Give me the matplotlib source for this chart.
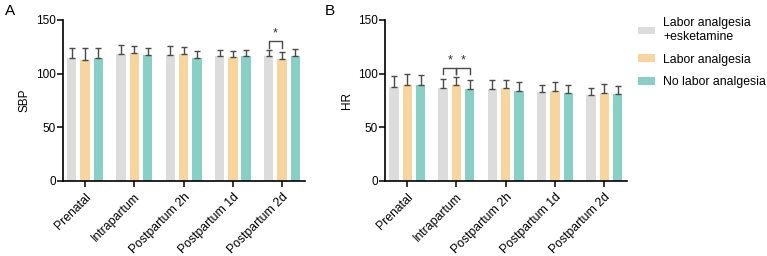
import numpy as np
import matplotlib
matplotlib.use("Agg")
import matplotlib.pyplot as plt
from matplotlib.patches import Patch

plt.rcParams['font.family'] = ['Liberation Sans', 'DejaVu Sans']

# Data
# ===================================
categories = ["Prenatal", "Intrapartum", "Postpartum 2h", "Postpartum 1d", "Postpartum 2d"]
groups = ["Labor analgesia\n+esketamine", "Labor analgesia", "No labor analgesia"]
colors = ["#DCDCDC", "#F8D49E", "#88D0C6"]

sbp_mean = [[114.3, 118.0, 117.4, 116.5, 116.5],
            [112.7, 119.6, 118.0, 115.8, 114.0],
            [114.3, 117.4, 114.3, 116.5, 116.8]]
sbp_sd = [[9.3, 8.4, 8.1, 5.2, 5.5],
          [10.9, 6.2, 7.2, 5.3, 6.5],
          [9.3, 6.8, 6.8, 5.5, 6.2]]

hr_mean = [[87.9, 87.0, 85.7, 83.2, 79.8],
           [89.8, 89.1, 87.0, 83.9, 81.7],
           [89.1, 85.7, 83.9, 82.0, 80.7]]
hr_sd = [[9.9, 7.7, 8.1, 6.6, 7.2],
         [9.9, 8.1, 7.4, 8.6, 9.0],
         [9.9, 8.1, 8.6, 7.8, 8.1]]

# Figure
# ===================================
fig = plt.figure(figsize=(7.67, 2.56), dpi=100)
ax_a = fig.add_axes([0.082, 0.293, 0.316, 0.629])
ax_b = fig.add_axes([0.502, 0.293, 0.316, 0.629])

x = np.arange(len(categories))
offsets = [-0.27, 0.0, 0.27]
width = 0.19


def draw_panel(ax, means, sds, ylabel):
    for i in range(3):
        ax.bar(x + offsets[i], means[i], width, color=colors[i], zorder=2)
        ax.errorbar(x + offsets[i], means[i], yerr=[np.zeros(len(x)), sds[i]],
                    fmt="none", ecolor="#4a4a4a", elinewidth=1.0, capsize=2.0,
                    capthick=1.0, zorder=3)
    ax.set_xlim(-0.45, 4.47)
    ax.set_ylim(0, 150)
    ax.set_yticks([0, 50, 100, 150])
    ax.set_xticks(x)
    ax.set_xticklabels(categories, rotation=45, ha="right", rotation_mode="anchor",
                       fontsize=8.8)
    ax.set_ylabel(ylabel, fontsize=8.5, labelpad=4)
    ax.tick_params(axis="y", labelsize=8.5, length=4, width=1.1, pad=1)
    ax.tick_params(axis="x", length=4, width=1.1, pad=3)
    for s in ["top", "right"]:
        ax.spines[s].set_visible(False)
    for s in ["left", "bottom"]:
        ax.spines[s].set_linewidth(1.2)


def bracket(ax, x1, x2, y, leg, star_y):
    ax.plot([x1, x1, x2, x2], [y - leg, y, y, y - leg], color="#4a4a4a", lw=1.0,
            zorder=4, clip_on=False)
    ax.text((x1 + x2) / 2, star_y, "*", ha="center", va="center", fontsize=9,
            color="#333333")


draw_panel(ax_a, sbp_mean, sbp_sd, "SBP")
draw_panel(ax_b, hr_mean, hr_sd, "HR")

bracket(ax_a, 4 + offsets[0], 4 + offsets[1], 130, 6, 137.5)
bracket(ax_b, 1 + offsets[0], 1 + offsets[1], 105.5, 6, 112)
bracket(ax_b, 1 + offsets[1], 1 + offsets[2], 105.5, 6, 112)

fig.text(0.007, 0.985, "A", fontsize=11, va="top")
fig.text(0.424, 0.985, "B", fontsize=11, va="top")

handles = [Patch(facecolor=c, edgecolor="none") for c in colors]
fig.legend(handles, groups, loc="upper left", bbox_to_anchor=(0.817, 0.975),
           frameon=False, fontsize=8.8, handlelength=1.45, handleheight=0.6,
           handletextpad=0.65, labelspacing=0.85, borderpad=0.4)

fig.savefig("out.png", dpi=100)
